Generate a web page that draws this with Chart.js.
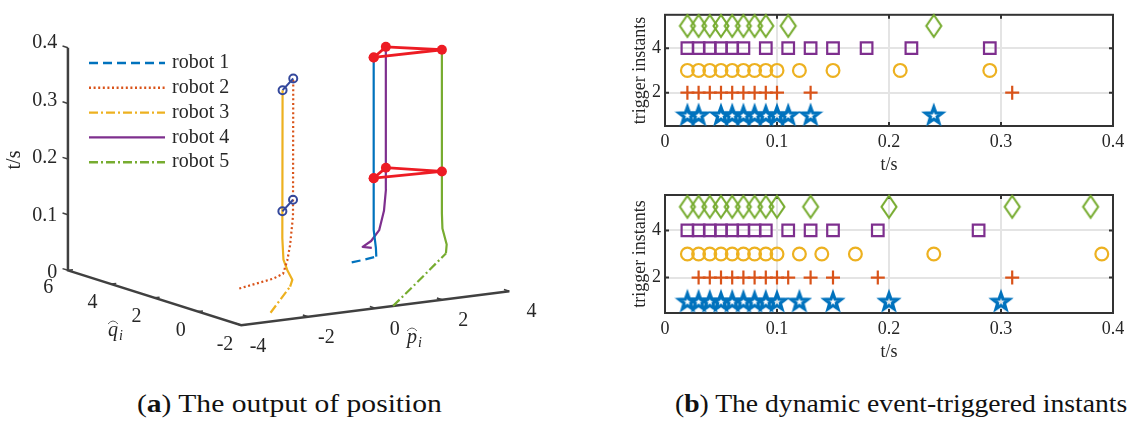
<!DOCTYPE html>
<html>
<head>
<meta charset="utf-8">
<script src="https://cdn.jsdelivr.net/npm/chart.js@4.4.1/dist/chart.umd.min.js"></script>
<style>
  html, body { margin: 0; padding: 0; background: #fff; }
  body { width: 1132px; height: 422px; position: relative; overflow: hidden; }
  canvas { position: absolute; }
  #pos { left: 0; top: 0; }
  #trigA { left: 600px; top: 0; }
  #trigB { left: 600px; top: 180px; }
  .cap { position: absolute; top: 390px; font-family: "Liberation Serif", serif; font-size: 25px; line-height: 28px;
         color: #111; white-space: nowrap; transform-origin: left center; }
</style>
</head>
<body>
<canvas id="pos" width="600" height="370"></canvas>
<canvas id="trigA" width="532" height="180"></canvas>
<canvas id="trigB" width="532" height="190"></canvas>
<div class="cap" data-center="289" data-width="305">(<b>a</b>) The output of position</div>
<div class="cap" data-center="901" data-width="452">(<b>b</b>) The dynamic event-triggered instants</div>
<script>
Chart.defaults.font.family = '"Liberation Serif", "Times New Roman", serif';
Chart.defaults.color = "#262626";

const robotNames = ["robot 1", "robot 2", "robot 3", "robot 4", "robot 5"];
const robotColors = ["#0072BD", "#D95319", "#EDB120", "#7E2F8E", "#77AC30"];

// (a) trajectories: p-hat, q-hat and time of every robot
const r1P = [2.58, 2.86, 3.12, 3.14, 3.10, 3.10];
const r1Q = [3.08, 2.91, 2.78, 2.83, 2.87, 2.87];
const r1T = [0, 0.005, 0.010, 0.025, 0.057, 0.367];

const r2P = [-1.57, -0.78, -0.54, -0.39, -0.26, -0.07, -0.03];
const r2Q = [1.85, 1.50, 1.42, 1.46, 1.53, 1.69, 1.74];
const r2T = [0, 0.016, 0.024, 0.046, 0.072, 0.121, 0.367];

const r3P = [-2.53, -1.59, -1.35, -1.26, -1.15, -1.08, -1.04];
const r3Q = [-1.08, -0.53, -0.26, 0.11, 0.46, 0.62, 0.67];
const r3T = [0, 0.033, 0.040, 0.052, 0.066, 0.102, 0.367];

const r4P = [3.98, 3.74, 3.98, 4.02, 4.04, 4.06, 4.07];
const r4Q = [4.32, 4.37, 4.35, 4.04, 3.85, 3.79, 3.81];
const r4T = [0, 0.003, 0.012, 0.035, 0.072, 0.111, 0.367];

const r5P = [0.54, 1.97, 3.62, 4.16, 4.66, 4.98, 5.07];
const r5Q = [-1.99, -0.91, 0.34, 1.14, 2.11, 2.63, 2.77];
const r5T = [0, 0.019, 0.042, 0.044, 0.057, 0.075, 0.367];

const eventTimes = [0.15, 0.367];
const tTicks = [0, 0.1, 0.2, 0.3, 0.4];
const qTicks = [6, 4, 2, 0, -2];
const pTicks = [-4, -2, 0, 2, 4];

// (b) trigger instants, upper and lower panel
const up1 = [0.02, 0.03, 0.05, 0.06, 0.07, 0.08, 0.09, 0.1, 0.11, 0.13, 0.24];
const up2 = [0.02, 0.03, 0.04, 0.05, 0.06, 0.07, 0.08, 0.09, 0.1, 0.13, 0.31];
const up3 = [0.02, 0.03, 0.04, 0.05, 0.06, 0.07, 0.08, 0.09, 0.1, 0.12, 0.15, 0.21, 0.29];
const up4 = [0.02, 0.03, 0.04, 0.05, 0.06, 0.07, 0.09, 0.11, 0.13, 0.15, 0.18, 0.22, 0.29];
const up5 = [0.02, 0.03, 0.04, 0.05, 0.06, 0.07, 0.08, 0.09, 0.11, 0.24];

const lo1 = [0.02, 0.03, 0.04, 0.05, 0.06, 0.07, 0.08, 0.09, 0.1, 0.12, 0.15, 0.2, 0.3];
const lo2 = [0.03, 0.04, 0.05, 0.06, 0.07, 0.08, 0.09, 0.1, 0.11, 0.13, 0.15, 0.19, 0.31];
const lo3 = [0.02, 0.03, 0.04, 0.05, 0.06, 0.07, 0.08, 0.09, 0.1, 0.12, 0.14, 0.17, 0.24, 0.39];
const lo4 = [0.02, 0.03, 0.04, 0.05, 0.06, 0.07, 0.08, 0.09, 0.11, 0.13, 0.15, 0.19, 0.28];
const lo5 = [0.02, 0.03, 0.04, 0.05, 0.06, 0.07, 0.08, 0.09, 0.1, 0.13, 0.2, 0.31, 0.38];

const trigTicksX = [0, 0.1, 0.2, 0.3, 0.4];
const trigTicksY = [2, 4];

// captions: stretch to the width of the original typeface
document.querySelectorAll(".cap").forEach(function (el) {
  var w = el.offsetWidth, target = +el.dataset.width;
  el.style.left = (+el.dataset.center - target / 2) + "px";
  el.style.transform = "scaleX(" + (target / w) + ")";
});

// ---------- (a) 3D view, projected onto a flat scatter chart ----------
// orthographic view of the box p in [-4,4], q in [-2,6], t in [0,0.4]
function proj(p, q, t) {
  const a = p + 4, b = q + 2;
  return { x: 240 + 34.2 * a - 22.1 * b, y: 330 - 4.4 * a - 7.1 * b - 575 * t };
}

function posAt(P, Q, T, t) {
  let i = 1;
  while (i < T.length - 1 && T[i] < t) i++;
  const f = (t - T[i - 1]) / (T[i] - T[i - 1]);
  return proj(P[i - 1] + f * (P[i] - P[i - 1]), Q[i - 1] + f * (Q[i] - Q[i - 1]), t);
}

const robots = [[r1P, r1Q, r1T], [r2P, r2Q, r2T], [r3P, r3Q, r3T], [r4P, r4Q, r4T], [r5P, r5Q, r5T]];
const dashes = [[9, 5], [2, 2.6], [9, 3, 2, 3], [], [9, 3, 2, 3]];
const styledSegs = [2, 99, 1, 0, 2]; // start of the path keeps the line style, the rest is solid

const red = "#ED1C24";
const navy = "#34489C";
var posSets = [];

eventTimes.forEach(function (t) {
  var at = robots.map(r => posAt(r[0], r[1], r[2], t));
  posSets.push({
    data: [at[0], at[3], at[4], at[0]],
    showLine: true, borderColor: red, borderWidth: 2.8,
    pointRadius: 5, pointBackgroundColor: red, pointBorderWidth: 0
  });
  posSets.push({
    data: [at[2], at[1]],
    showLine: true, borderColor: navy, borderWidth: 2,
    pointRadius: 4, pointBorderColor: navy, pointBorderWidth: 2, pointBackgroundColor: "rgba(0,0,0,0)"
  });
});

robots.forEach(function (r, i) {
  posSets.push({
    label: robotNames[i],
    isRobot: true,
    data: r[2].map((t, k) => proj(r[0][k], r[1][k], t)),
    showLine: true,
    borderColor: robotColors[i],
    borderWidth: 2.2,
    borderDash: dashes[i],
    borderJoinStyle: "round",
    pointRadius: 0,
    segment: { borderDash: ctx => (ctx.p0DataIndex >= styledSegs[i] ? [] : undefined) }
  });
});

// box edges and tick marks
var tickMarks = [];
tTicks.forEach(t => tickMarks.push(proj(-4, 6, t), proj(-4, 6.25, t), { x: NaN, y: NaN }));
qTicks.forEach(q => tickMarks.push(proj(-4, q, 0), proj(-3.85, q, 0), { x: NaN, y: NaN }));
pTicks.forEach(p => tickMarks.push(proj(p, -2, 0), proj(p, -1.75, 0), { x: NaN, y: NaN }));

posSets.push({ data: tickMarks, showLine: true, borderColor: "#404040", borderWidth: 1.5, pointRadius: 0 });
posSets.push({
  data: [proj(-4, 6, 0.4), proj(-4, 6, 0), proj(-4, -2, 0), proj(4, -2, 0)],
  showLine: true, borderColor: "#404040", borderWidth: 2.5, pointRadius: 0
});

function hatLabel(ctx, ch, x, y) {
  ctx.textAlign = "center";
  ctx.textBaseline = "alphabetic";
  ctx.font = 'italic 20px "Liberation Serif"';
  ctx.fillText(ch, x, y);
  ctx.font = 'italic 14px "Liberation Serif"';
  ctx.fillText("i", x + 8, y + 4);
  ctx.beginPath();
  ctx.lineWidth = 0.9;
  ctx.strokeStyle = "#555";
  ctx.moveTo(x - 5, y - 12);
  ctx.quadraticCurveTo(x, y - 18, x + 5, y - 12);
  ctx.stroke();
}

const viewText = {
  id: "viewText",
  afterDraw(chart) {
    const ctx = chart.ctx;
    ctx.save();
    ctx.fillStyle = "#262626";
    ctx.font = '20px "Liberation Serif"';
    ctx.textBaseline = "middle";
    ctx.textAlign = "right";
    tTicks.forEach(t => { const s = proj(-4, 6, t); ctx.fillText(String(t), s.x - 6, s.y); });
    ctx.textAlign = "center";
    qTicks.forEach(q => { const s = proj(-4, q, 0); ctx.fillText(String(q), s.x - 15, s.y + 15); });
    pTicks.forEach(p => { const s = proj(p, -2, 0); ctx.fillText(String(p), s.x + 18, s.y + 17); });

    hatLabel(ctx, "q", 113, 336);
    hatLabel(ctx, "p", 412, 343);

    ctx.save();
    ctx.translate(15, 160);
    ctx.rotate(-Math.PI / 2);
    ctx.font = '20px "Liberation Serif"';
    ctx.textBaseline = "middle";
    ctx.fillText("t/s", 0, 0);
    ctx.restore();

    // legend
    var k = 0;
    chart.data.datasets.forEach(function (ds) {
      if (!ds.isRobot) return;
      var y = 63 + k * 24.8;
      ctx.strokeStyle = ds.borderColor;
      ctx.lineWidth = 2.4;
      ctx.setLineDash(ds.borderDash);
      ctx.beginPath();
      ctx.moveTo(89, y);
      ctx.lineTo(165, y);
      ctx.stroke();
      ctx.setLineDash([]);
      ctx.font = '20px "Liberation Serif"';
      ctx.textAlign = "left";
      ctx.textBaseline = "middle";
      ctx.fillText(ds.label, 172, y);
      k++;
    });
    ctx.restore();
  }
};

new Chart(document.getElementById("pos"), {
  type: "scatter",
  data: { datasets: posSets },
  options: {
    responsive: false,
    animation: false,
    events: [],
    layout: { padding: 0 },
    plugins: { legend: { display: false }, tooltip: { enabled: false } },
    scales: {
      x: { type: "linear", display: false, min: 0, max: 600 },
      y: { type: "linear", display: false, min: 0, max: 370, reverse: true }
    }
  },
  plugins: [viewText]
});

// ---------- (b) trigger instants ----------
function markerImage(w, h, draw) {
  var c = document.createElement("canvas");
  c.width = w;
  c.height = h;
  draw(c.getContext("2d"));
  return c;
}

const starMark = markerImage(26, 26, function (g) {
  g.strokeStyle = robotColors[0];
  g.lineWidth = 3.2;
  g.beginPath();
  for (var k = 0; k < 10; k++) {
    var r = k % 2 ? 3.5 : 8.6;
    var a = -Math.PI / 2 + k * Math.PI / 5;
    var x = 13 + r * Math.cos(a), y = 13.8 + r * Math.sin(a);
    if (k) g.lineTo(x, y); else g.moveTo(x, y);
  }
  g.closePath();
  g.stroke();
});

const diamondMark = markerImage(20, 28, function (g) {
  g.strokeStyle = robotColors[4];
  g.lineWidth = 2.1;
  g.beginPath();
  g.moveTo(10, 3);
  g.lineTo(17.5, 14);
  g.lineTo(10, 25);
  g.lineTo(2.5, 14);
  g.closePath();
  g.stroke();
});

const boxPlugin = {
  id: "box",
  beforeDatasetsDraw(chart) {
    const ctx = chart.ctx, a = chart.chartArea, x = chart.scales.x, y = chart.scales.y;
    ctx.save();
    ctx.strokeStyle = "#333";
    ctx.lineWidth = 2;
    ctx.strokeRect(a.left, a.top, a.right - a.left, a.bottom - a.top);
    ctx.beginPath();
    trigTicksX.forEach(function (v) {
      var px = x.getPixelForValue(v);
      ctx.moveTo(px, a.bottom); ctx.lineTo(px, a.bottom - 4);
      ctx.moveTo(px, a.top); ctx.lineTo(px, a.top + 4);
    });
    trigTicksY.forEach(function (v) {
      var py = y.getPixelForValue(v);
      ctx.moveTo(a.left, py); ctx.lineTo(a.left + 4, py);
      ctx.moveTo(a.right, py); ctx.lineTo(a.right - 4, py);
    });
    ctx.stroke();
    ctx.restore();
  }
};

function triggerChart(id, series, padTop, axisH, titlePad) {
  var styles = [
    { pointStyle: starMark, pointRadius: 8 },
    { pointStyle: "cross", pointRadius: 7, pointBorderWidth: 2.2 },
    { pointStyle: "circle", pointRadius: 6.4, pointBorderWidth: 2.2 },
    { pointStyle: "rect", pointRadius: 8.2, pointBorderWidth: 2.2 },
    { pointStyle: diamondMark, pointRadius: 8 }
  ];
  return new Chart(document.getElementById(id), {
    type: "scatter",
    data: {
      datasets: series.map((s, i) => Object.assign({
        label: robotNames[i],
        data: s.map(t => ({ x: t, y: i + 1 })),
        borderColor: robotColors[i],
        backgroundColor: "rgba(0,0,0,0)",
        clip: false
      }, styles[i]))
    },
    options: {
      responsive: false,
      animation: false,
      events: [],
      layout: { padding: { top: padTop, right: 19, left: 0, bottom: 0 } },
      plugins: { legend: { display: false }, tooltip: { enabled: false } },
      scales: {
        x: {
          type: "linear", min: 0, max: 0.4,
          afterFit: s => { s.height = axisH; },
          afterBuildTicks: s => { s.ticks = trigTicksX.map(v => ({ value: v })); },
          ticks: { padding: 5, font: { size: 18 }, maxRotation: 0 },
          grid: { color: "#e4e4e4", lineWidth: 2, drawTicks: false },
          border: { display: false },
          title: { display: true, text: "t/s", font: { size: 18 }, padding: { top: 0, bottom: titlePad } }
        },
        y: {
          type: "linear", min: 0.5, max: 5.5,
          afterFit: s => { s.width = 65; },
          afterBuildTicks: s => { s.ticks = trigTicksY.map(v => ({ value: v })); },
          ticks: { padding: 4, font: { size: 18 } },
          grid: { color: "#e4e4e4", lineWidth: 2, drawTicks: false },
          border: { display: false },
          title: { display: true, text: "trigger instants", font: { size: 18 }, padding: { top: 29, bottom: 0 } }
        }
      }
    },
    plugins: [boxPlugin]
  });
}

triggerChart("trigA", [up1, up2, up3, up4, up5], 7, 54, 4);
triggerChart("trigB", [lo1, lo2, lo3, lo4, lo5], 15, 57, 7);
</script>
</body>
</html>
